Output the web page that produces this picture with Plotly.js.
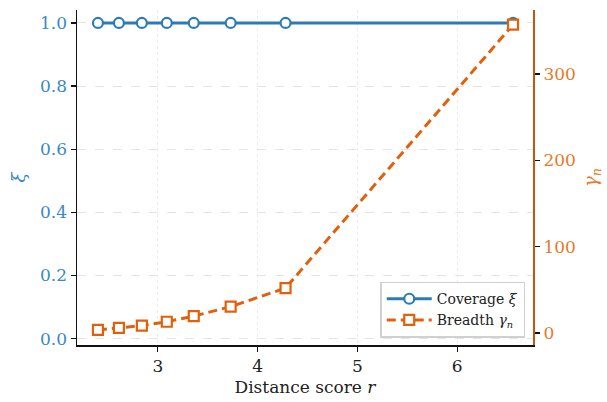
<!DOCTYPE html>
<html>
<head>
<meta charset="utf-8">
<script src="https://cdn.plot.ly/plotly-3.0.1.min.js"></script>
<style>html,body{margin:0;padding:0;background:#fff;}#chart{width:607px;height:402px;}</style>
</head>
<body>
<div id="chart"></div>
<script>
const distance = [2.40, 2.61, 2.84, 3.09, 3.36, 3.73, 4.28, 6.56];
const coverage = [1.0, 1.0, 1.0, 1.0, 1.0, 1.0, 1.0, 1.0];
const breadth = [3.5, 6, 8.5, 13, 19.5, 30.5, 52, 357];
const seriesNames = ["Coverage <i>ξ</i>", "Breadth <i>γ<sub>n</sub></i>"];

const blue = "#2c7bb6";
const blueText = "#3a88c6";
const orange = "#e0600c";
const orangeText = "#e57a28";
const orangeSpine = "#c0570f";
const font = "DejaVu Serif";

const traces = [
  {
    x: distance, y: coverage, name: seriesNames[0], type: "scatter", mode: "lines+markers",
    line: {color: blue, width: 3},
    marker: {symbol: "circle", size: 10, color: "#ffffff", line: {color: blue, width: 2.2}},
    yaxis: "y"
  },
  {
    x: distance, y: breadth, name: seriesNames[1], type: "scatter", mode: "lines+markers",
    line: {color: orange, width: 3, dash: "9px,5px"},
    marker: {symbol: "square", size: 10, color: "#ffffff", line: {color: orange, width: 2.2}},
    yaxis: "y2"
  }
];

const layout = {
  width: 607, height: 402,
  margin: {l: 77, r: 74, t: 10, b: 57},
  paper_bgcolor: "#ffffff", plot_bgcolor: "#ffffff",
  font: {family: font, size: 15, color: "#222"},
  showlegend: true,
  legend: {
    x: 0.983, xanchor: "right", y: 0.022, yanchor: "bottom",
    bgcolor: "rgba(255,255,255,0.9)", bordercolor: "#d0d0d0", borderwidth: 1.5,
    font: {family: font, size: 14, color: "#222"},
    itemwidth: 45,
    tracegroupgap: 2
  },
  xaxis: {
    range: [2.19, 6.76], tickvals: [3, 4, 5, 6], ticktext: ["3", "4", "5", "6"],
    showline: true, linecolor: "#111", linewidth: 1.5, mirror: false,
    ticks: "outside", ticklen: 5, tickwidth: 1.2, tickcolor: "#111",
    showgrid: true, gridcolor: "#ececec", griddash: "dot", gridwidth: 1,
    zeroline: false,
    tickfont: {family: font, size: 17, color: "#222"},
    title: {text: "Distance score <i>r</i>", font: {family: font, size: 17, color: "#222"}, standoff: 6}
  },
  yaxis: {
    range: [-0.02, 1.041], tickvals: [0, 0.2, 0.4, 0.6, 0.8, 1.0],
    ticktext: ["0.0", "0.2", "0.4", "0.6", "0.8", "1.0"],
    showline: true, linecolor: "#111", linewidth: 1.5,
    ticks: "outside", ticklen: 5, tickwidth: 1.2, tickcolor: "#111",
    showgrid: true, gridcolor: "#e4e4e4", griddash: "dash", gridwidth: 1,
    zeroline: false,
    tickfont: {family: font, size: 17, color: blueText},
    title: {text: "<i>ξ</i>", font: {family: font, size: 18, color: blueText}, standoff: 10}
  },
  yaxis2: {
    overlaying: "y", side: "right",
    range: [-13.9, 374], tickvals: [0, 100, 200, 300],
    showline: true, linecolor: orangeSpine, linewidth: 2,
    ticks: "outside", ticklen: 5, tickwidth: 1.2, tickcolor: "#111",
    showgrid: false, zeroline: false,
    tickfont: {family: font, size: 17, color: orangeText},
    title: {text: "<i>γ<sub>n</sub></i>", font: {family: font, size: 18, color: orangeText}, standoff: 10}
  }
};

Plotly.newPlot("chart", traces, layout, {staticPlot: true, displayModeBar: false});
</script>
</body>
</html>
